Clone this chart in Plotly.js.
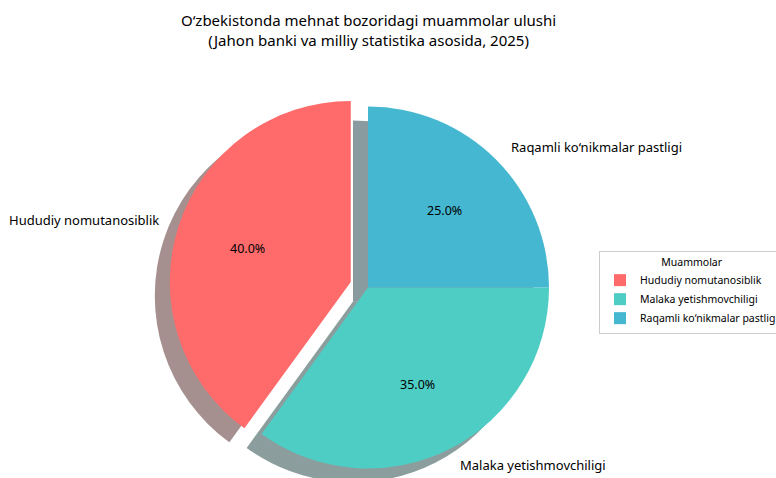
<!DOCTYPE html>
<html>
<head>
<meta charset="utf-8">
<script src="https://cdn.plot.ly/plotly-3.0.1.min.js"></script>
<style>
  html, body { margin: 0; padding: 0; overflow: hidden; background: #fff; }
  #chart { width: 776px; height: 520px; }
</style>
</head>
<body>
<div id="chart"></div>
<script>
// ---- data ----
const categories = ["Hududiy nomutanosiblik", "Malaka yetishmovchiligi", "Raqamli ko\u2018nikmalar pastligi"];
const shares = [40, 35, 25];
const explode = [0.1, 0, 0];
const sliceColors = ["#FF6B6B", "#4ECDC4", "#45B7D1"];
const chartTitle = "O\u2018zbekistonda mehnat bozoridagi muammolar ulushi<br>(Jahon banki va milliy statistika asosida, 2025)";
const legendTitle = "Muammolar";

// ---- geometry / style ----
const W = 776, H = 520;
const CX = 368, CY = 287.5, R = 181;
const SHX = -15, SHY = 14;
const FONT = "Noto Sans, DejaVu Sans, sans-serif";
const maxPull = Math.max(...explode);
const S = 2 * R * (1 + maxPull);
const total = shares.reduce((a, b) => a + b, 0);

function domainFor(cx, cy) {
  return {
    x: [(cx - S / 2) / W, (cx + S / 2) / W],
    y: [1 - (cy + S / 2) / H, 1 - (cy - S / 2) / H]
  };
}
function shadowColor(hex) {
  const r = parseInt(hex.slice(1, 3), 16), g = parseInt(hex.slice(3, 5), 16), b = parseInt(hex.slice(5, 7), 16);
  return `rgba(${Math.round(r * 0.3)},${Math.round(g * 0.3)},${Math.round(b * 0.3)},0.5)`;
}

// first slice starts at 12 o'clock and runs counterclockwise
const rot = -360 * shares[0] / total;

const common = {
  type: "pie",
  labels: categories,
  values: shares,
  pull: explode,
  sort: false,
  direction: "counterclockwise",
  rotation: rot,
  textinfo: "none",
  hoverinfo: "label+percent"
};

const shadow = Object.assign({}, common, {
  domain: domainFor(CX + SHX, CY + SHY),
  marker: { colors: sliceColors.map(shadowColor), line: { width: 0 } },
  showlegend: false,
  hoverinfo: "skip"
});
const main = Object.assign({}, common, {
  domain: domainFor(CX, CY),
  marker: { colors: sliceColors, line: { width: 0 } },
  showlegend: true
});

// text annotations placed from slice angles (matplotlib-like, counterclockwise from 90°)
const annotations = [];
let cum = 0;
shares.forEach((v, i) => {
  const mid = (90 + 360 * (cum + v / 2) / total) * Math.PI / 180;
  cum += v;
  const c = Math.cos(mid), s = Math.sin(mid);
  const pr = (explode[i] + 0.6) * R;
  annotations.push({
    xref: "paper", yref: "paper",
    x: (CX + pr * c) / W, y: 1 - (CY - pr * s) / H,
    text: (100 * v / total).toFixed(1) + "%",
    showarrow: false, xanchor: "center", yanchor: "middle",
    font: { family: FONT, size: 12.5, color: "#000" }
  });
  const lr = (explode[i] + 1.1) * R;
  annotations.push({
    xref: "paper", yref: "paper",
    x: (CX + lr * c) / W, y: 1 - (CY - lr * s) / H,
    text: categories[i],
    showarrow: false, xanchor: c < 0 ? "right" : "left", yanchor: "middle",
    font: { family: FONT, size: 13, color: "#000" }
  });
});
annotations.push({
  xref: "paper", yref: "paper",
  x: CX / W, y: 1 - 30 / H,
  text: chartTitle,
  showarrow: false, xanchor: "center", yanchor: "middle", align: "center",
  font: { family: FONT, size: 15, color: "#000" }
});

const layout = {
  width: W, height: H,
  margin: { l: 0, r: 0, t: 0, b: 0, autoexpand: false },
  paper_bgcolor: "#fff",
  font: { family: FONT, color: "#000" },
  legend: {
    x: 599 / W, xanchor: "left",
    y: 1 - 251 / H, yanchor: "top",
    bordercolor: "#cccccc", borderwidth: 1,
    bgcolor: "#fff",
    font: { family: FONT, size: 10.5, color: "#000" },
    title: { text: legendTitle, side: "top center", font: { family: FONT, size: 10.5, color: "#000" } },
    itemwidth: 30,
    traceorder: "normal"
  },
  annotations: annotations
};

Plotly.newPlot("chart", [shadow, main], layout, { displayModeBar: false, staticPlot: true });
</script>
</body>
</html>
